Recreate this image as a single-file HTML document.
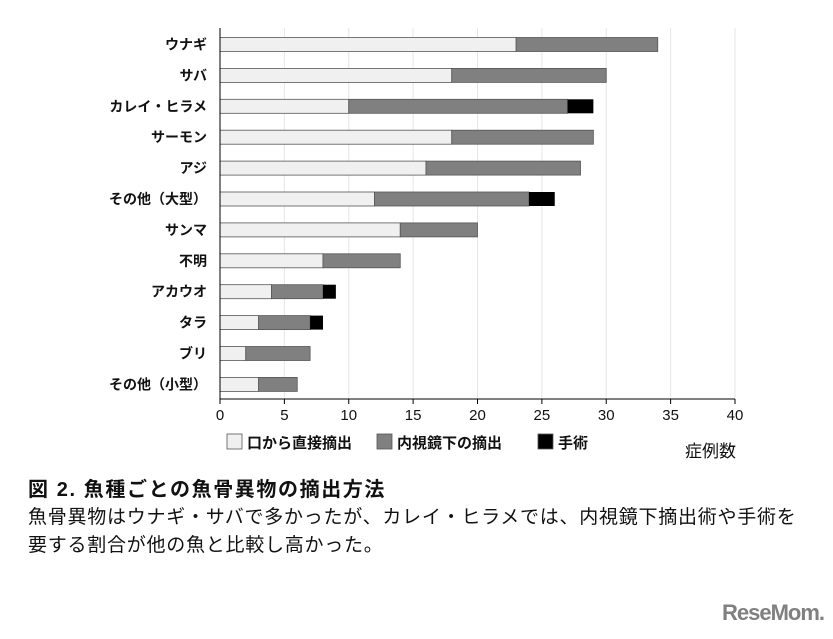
<!DOCTYPE html>
<html><head><meta charset="utf-8"><style>
body{margin:0;width:833px;height:639px;background:#fff;overflow:hidden;font-family:"Liberation Sans","Noto Sans CJK JP",sans-serif;}
svg{position:absolute;left:0;top:0}
.cap{position:absolute;left:28px;font-family:"Liberation Sans","Noto Sans CJK JP",sans-serif;color:#111;white-space:nowrap}
</style></head><body>
<svg width="833" height="639" id="chart"></svg>
<div class="cap" style="top:473px;font-size:20px;font-weight:bold;letter-spacing:1.6px">図 2. 魚種ごとの魚骨異物の摘出方法</div>
<div class="cap" style="top:504px;font-size:19px;line-height:28px;letter-spacing:0.75px">魚骨異物はウナギ・サバで多かったが、カレイ・ヒラメでは、内視鏡下摘出術や手術を<br>要する割合が他の魚と比較し高かった。</div>
<div style="position:absolute;left:722px;top:600px;font-size:22px;font-weight:bold;color:#808080;letter-spacing:-1px">ReseMom.</div>
<script>
const categories=["ウナギ","サバ","カレイ・ヒラメ","サーモン","アジ","その他（大型）","サンマ","不明","アカウオ","タラ","ブリ","その他（小型）"];
const oral=[23,18,10,18,16,12,14,8,4,3,2,3];
const endo=[11,12,17,11,12,12,6,6,4,4,5,3];
const surgery=[0,0,2,0,0,2,0,0,1,1,0,0];
const ticks=[0,5,10,15,20,25,30,35,40];
const NS="http://www.w3.org/2000/svg";
const svg=document.getElementById('chart');
const x0=220,x1=735,xmax=40,yTop=44.5,step=30.9,bh=14,axisY=399;
const xs=v=>x0+(x1-x0)*v/xmax;
const yc=i=>yTop+i*step;
function mk(t,a){const e=document.createElementNS(NS,t);for(const k in a)e.setAttribute(k,a[k]);svg.appendChild(e);return e;}
ticks.forEach(t=>{
 if(t>0){const g=mk('line',{x1:xs(t),x2:xs(t),y1:28,y2:axisY,stroke:'#e6e6e6','stroke-width':1});
 
 }
 const tk=mk('line',{x1:xs(t),x2:xs(t),y1:axisY,y2:axisY+5,stroke:'#000'});
 
 
 const tl=mk('text',{x:xs(t),y:axisY+21,'font-size':15,'text-anchor':'middle',fill:'#111'});tl.textContent=t;
 
 
});
categories.forEach((c,i)=>{
 const y=yc(i)-bh/2;
 const lab=mk('text',{x:207,y:yc(i)+5,'font-size':14,'font-weight':'bold','text-anchor':'end',fill:'#111'});lab.textContent=c;
 
 
 const a=mk('rect',{x:xs(0),y:y,width:xs(oral[i])-xs(0),height:bh,fill:'#f0f0f0',stroke:'#555','stroke-width':0.8});
 
 
 const b=mk('rect',{x:xs(oral[i]),y:y,width:xs(endo[i])-xs(0),height:bh,fill:'#808080',stroke:'#555','stroke-width':0.8});
 
 
 if(surgery[i]>0){const s=mk('rect',{x:xs(oral[i]+endo[i]),y:y,width:xs(surgery[i])-xs(0),height:bh,fill:'#000'});
 
 }
});
const ya=mk('line',{x1:x0,x2:x0,y1:28,y2:axisY,stroke:'#000'});


const xa=mk('line',{x1:x0,x2:x1,y1:axisY,y2:axisY,stroke:'#000'});


const leg=[['口から直接摘出','#f0f0f0',227],['内視鏡下の摘出','#808080',377],['手術','#000',538]];
leg.forEach(l=>{
 const r=mk('rect',{x:l[2],y:434,width:15,height:15,fill:l[1],stroke:'#555','stroke-width':0.8});
 
 
 const t=mk('text',{x:l[2]+20,y:448,'font-size':15,'font-weight':'bold',fill:'#111'});t.textContent=l[0];
 
 
});
const xt=mk('text',{x:736,y:457,'font-size':17,'text-anchor':'end',fill:'#111'});xt.textContent='症例数';


</script>
</body></html>
